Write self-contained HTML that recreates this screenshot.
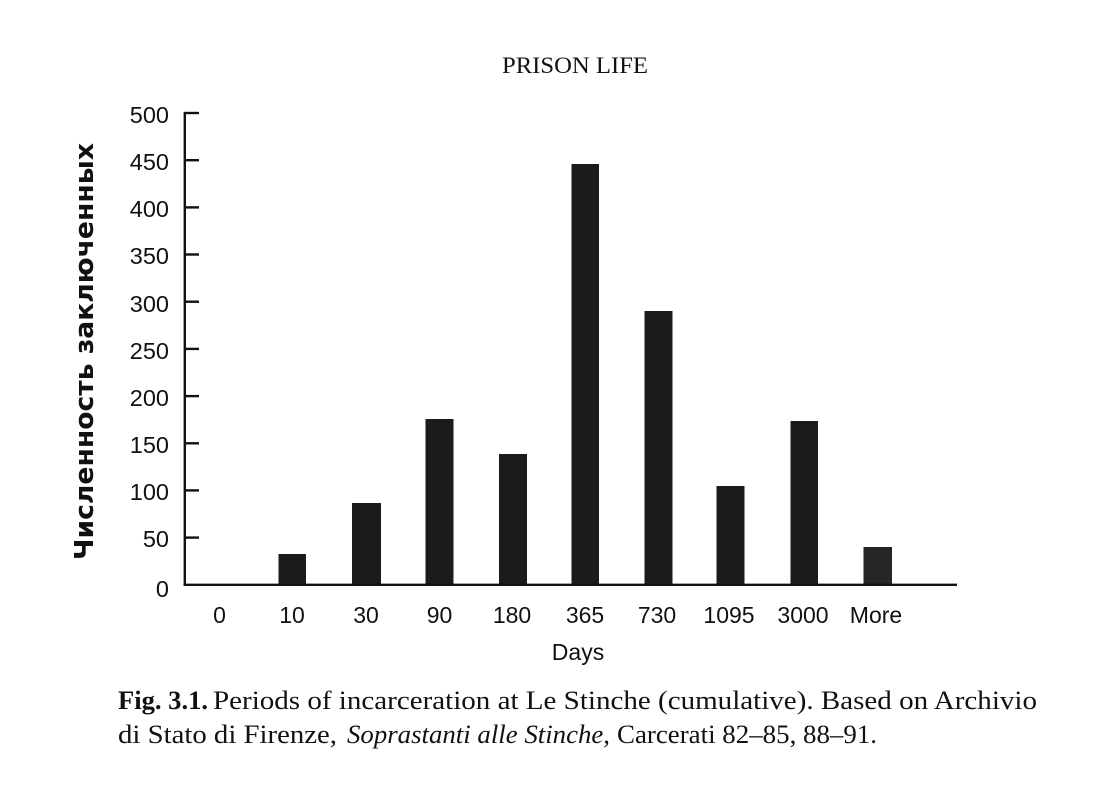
<!DOCTYPE html>
<html>
<head>
<meta charset="utf-8">
<style>
html,body{margin:0;padding:0;background:#fff;}
svg{display:block;}
</style>
</head>
<body>
<svg width="1110" height="786" viewBox="0 0 1110 786" xmlns="http://www.w3.org/2000/svg">
<rect width="1110" height="786" fill="#fff"/>
<!-- header -->
<text x="575" y="73" text-anchor="middle" font-family="Liberation Serif, serif" font-size="23" fill="#111" textLength="146" lengthAdjust="spacingAndGlyphs">PRISON LIFE</text>

<!-- y axis title -->
<text transform="translate(93,351.5) rotate(-90)" text-anchor="middle" font-family="DejaVu Sans, sans-serif" font-weight="bold" font-size="26" fill="#111" textLength="417" lengthAdjust="spacingAndGlyphs">Численность заключенных</text>

<!-- bars -->
<g fill="#1b1b1b">
<rect x="278.5" y="554" width="27.5" height="31"/>
<rect x="352" y="503" width="29" height="82"/>
<rect x="425.5" y="419" width="28" height="166"/>
<rect x="499" y="454" width="28" height="131"/>
<rect x="571.5" y="164" width="27.5" height="421"/>
<rect x="644.5" y="311" width="28" height="274"/>
<rect x="716.5" y="486" width="28" height="99"/>
<rect x="790.5" y="421" width="27.5" height="164"/>
<rect x="863.5" y="547" width="28.5" height="38" fill="#262626"/>
</g>

<!-- axes -->
<g stroke="#111" stroke-width="2.4" fill="none">
<line x1="184.8" y1="112" x2="184.8" y2="586"/>
<line x1="183.6" y1="584.8" x2="957" y2="584.8"/>
<line x1="184" y1="113" x2="199" y2="113"/>
<line x1="184" y1="160.2" x2="199" y2="160.2"/>
<line x1="184" y1="207.4" x2="199" y2="207.4"/>
<line x1="184" y1="254.5" x2="199" y2="254.5"/>
<line x1="184" y1="301.7" x2="199" y2="301.7"/>
<line x1="184" y1="348.9" x2="199" y2="348.9"/>
<line x1="184" y1="396.1" x2="199" y2="396.1"/>
<line x1="184" y1="443.3" x2="199" y2="443.3"/>
<line x1="184" y1="490.4" x2="199" y2="490.4"/>
<line x1="184" y1="537.6" x2="199" y2="537.6"/>
</g>

<!-- y tick labels -->
<g font-family="Liberation Sans, sans-serif" font-size="23.5" fill="#111" text-anchor="end">
<text x="169" y="123">500</text>
<text x="169" y="170">450</text>
<text x="169" y="217">400</text>
<text x="169" y="264">350</text>
<text x="169" y="312">300</text>
<text x="169" y="359">250</text>
<text x="169" y="406">200</text>
<text x="169" y="453">150</text>
<text x="169" y="500">100</text>
<text x="169" y="547">50</text>
<text x="169" y="597">0</text>
</g>

<!-- x tick labels -->
<g font-family="Liberation Sans, sans-serif" font-size="23" fill="#111" text-anchor="middle">
<text x="219.5" y="623">0</text>
<text x="292" y="623">10</text>
<text x="366" y="623">30</text>
<text x="439.5" y="623">90</text>
<text x="512" y="623">180</text>
<text x="585" y="623">365</text>
<text x="657" y="623">730</text>
<text x="729" y="623">1095</text>
<text x="803" y="623">3000</text>
<text x="876" y="623">More</text>
<text x="578" y="660">Days</text>
</g>

<!-- caption -->
<g font-family="Liberation Serif, serif" font-size="26" fill="#111">
<text x="118" y="709" font-weight="bold" textLength="90" lengthAdjust="spacingAndGlyphs">Fig. 3.1.</text>
<text x="213" y="709" textLength="824" lengthAdjust="spacingAndGlyphs">Periods of incarceration at Le Stinche (cumulative). Based on Archivio</text>
<text x="118" y="743" textLength="219" lengthAdjust="spacingAndGlyphs">di Stato di Firenze,</text>
<text x="347" y="743" font-style="italic" textLength="263" lengthAdjust="spacingAndGlyphs">Soprastanti alle Stinche,</text>
<text x="617" y="743" textLength="260" lengthAdjust="spacingAndGlyphs">Carcerati 82–85, 88–91.</text>
</g>
</svg>
</body>
</html>
